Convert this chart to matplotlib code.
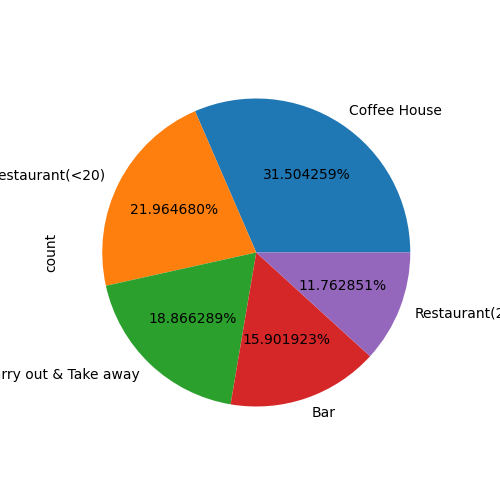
import matplotlib
matplotlib.use("Agg")
import matplotlib.pyplot as plt

categories = ["Coffee House", "Restaurant(<20)", "Carry out & Take away", "Bar", "Restaurant(20-50)"]
shares = [31.504259, 21.964680, 18.866289, 15.901923, 11.762851]

fig, ax = plt.subplots(figsize=(5, 5), dpi=100)
ax.pie(shares, labels=categories, autopct="%f%%")
ax.set_ylabel("count")
fig.savefig("out.png", dpi=100)
